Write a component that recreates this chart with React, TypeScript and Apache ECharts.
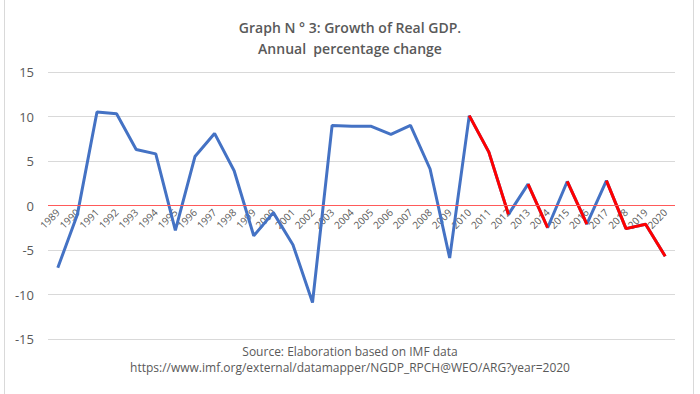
import React, { useEffect, useRef } from "react";
import * as echarts from "echarts";

const years = [
  "1989", "1990", "1991", "1992", "1993", "1994", "1995", "1996", "1997", "1998",
  "1999", "2000", "2001", "2002", "2003", "2004", "2005", "2006", "2007", "2008",
  "2009", "2010", "2011", "2012", "2013", "2014", "2015", "2016", "2017", "2018",
  "2019", "2020",
];
const growth = [
  -7.0, -1.0, 10.5, 10.3, 6.3, 5.8, -2.8, 5.5, 8.1, 3.9,
  -3.4, -0.8, -4.4, -10.9, 9.0, 8.9, 8.9, 8.0, 9.0, 4.1,
  -5.9, 10.1, 6.0, -1.0, 2.4, -2.5, 2.7, -2.1, 2.8, -2.6,
  -2.1, -5.7,
];
// Year ranges drawn in red (declining stretches after 2010)
const redRanges: [string, string][] = [
  ["2010", "2012"],
  ["2013", "2014"],
  ["2015", "2016"],
  ["2017", "2020"],
];
const yTicks = { min: -15, max: 15, interval: 5 };
const titleLines = ["Graph N ° 3: Growth of Real GDP.", "Annual  percentage change"];
const sourceLines = [
  "Source: Elaboration based on IMF data",
  "https://www.imf.org/external/datamapper/NGDP_RPCH@WEO/ARG?year=2020",
];

const FONT = "'Open Sans', 'Liberation Sans', sans-serif";
const GRID = { left: 48, right: 25, top: 72, bottom: 55 };

export default function App() {
  const ref = useRef<HTMLDivElement>(null);
  useEffect(() => {
    if (!ref.current) return;
    const chart = echarts.init(ref.current, undefined, { renderer: "svg" });
    const gridH = 394 - GRID.top - GRID.bottom;
    const zeroOffset =
      -gridH * ((0 - yTicks.min) / (yTicks.max - yTicks.min));
    const redSeries = redRanges.map(([a, b]) => {
      const i0 = years.indexOf(a);
      const i1 = years.indexOf(b);
      return {
        type: "line",
        data: growth.map((v, i) => (i >= i0 && i <= i1 ? v : null)),
        showSymbol: false,
        symbol: "none",
        connectNulls: false,
        lineStyle: { color: "#ff0000", width: 3 },
        itemStyle: { color: "#ff0000" },
        z: 4,
      };
    });
    chart.setOption({
      animation: false,
      backgroundColor: "#ffffff",
      textStyle: { fontFamily: FONT },
      title: {
        text: titleLines.join("\n"),
        left: "center",
        top: 12,
        textStyle: {
          fontFamily: FONT,
          fontSize: 14,
          fontWeight: 600,
          color: "#595959",
          lineHeight: 21,
        },
      },
      grid: GRID,
      xAxis: {
        type: "category",
        data: years,
        boundaryGap: true,
        position: "bottom",
        offset: zeroOffset,
        axisLine: { show: false, onZero: false },
        axisTick: { show: false },
        axisLabel: {
          rotate: 45,
          fontSize: 10,
          color: "#595959",
          interval: 0,
          margin: 5,
          fontFamily: FONT,
        },
        splitLine: { show: false },
      },
      yAxis: {
        type: "value",
        min: yTicks.min,
        max: yTicks.max,
        interval: yTicks.interval,
        axisLine: { show: false },
        axisTick: { show: false },
        axisLabel: { fontSize: 13, color: "#595959", margin: 14, fontFamily: FONT },
        splitLine: { lineStyle: { color: "#d9d9d9", width: 1 } },
      },
      series: [
        {
          type: "line",
          data: growth,
          showSymbol: false,
          symbol: "none",
          lineStyle: { color: "#4472c4", width: 3 },
          itemStyle: { color: "#4472c4" },
          z: 3,
          markLine: {
            silent: true,
            symbol: ["none", "none"],
            label: { show: false },
            emphasis: { disabled: true },
            lineStyle: { color: "#ff5a5a", width: 1.2, type: "solid", opacity: 1 },
            data: [{ yAxis: 0 }],
          },
        },
        ...redSeries,
      ],
      graphic: [
        {
          type: "rect",
          shape: { x: 4.5, y: -1, width: 689, height: 400 },
          style: { fill: "none", stroke: "#d9d9d9", lineWidth: 1 },
          silent: true,
        },
        {
          type: "text",
          left: "center",
          top: 345,
          style: {
            text: sourceLines[0],
            fontFamily: FONT,
            fontSize: 12,
            fill: "#595959",
          },
        },
        {
          type: "text",
          left: "center",
          top: 361,
          style: {
            text: sourceLines[1],
            fontFamily: FONT,
            fontSize: 12,
            fill: "#595959",
          },
        },
      ],
    });
    return () => chart.dispose();
  }, []);
  return (
    <div
      ref={ref}
      style={{ position: "fixed", left: 0, top: 0, width: 700, height: 394 }}
    />
  );
}
